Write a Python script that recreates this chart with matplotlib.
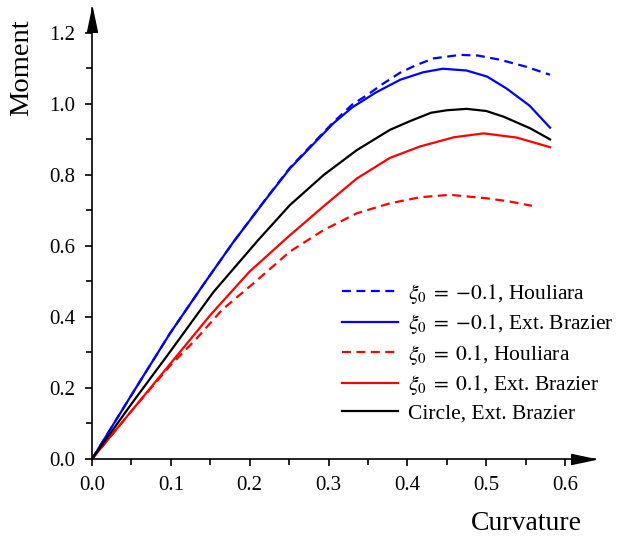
import matplotlib
matplotlib.use("Agg")
import matplotlib.pyplot as plt
from matplotlib.ticker import MultipleLocator, FormatStrFormatter
from matplotlib.path import Path

plt.rcParams['font.family'] = ['Liberation Serif', 'DejaVu Serif']
plt.rcParams['mathtext.fontset'] = 'stix'

# ---- data ----
blue_solid_x = [0, 0.05, 0.099, 0.141, 0.179, 0.22, 0.251, 0.28, 0.306, 0.33, 0.36, 0.391, 0.42, 0.445, 0.475, 0.501, 0.526, 0.555, 0.581]
blue_solid_y = [0, 0.18, 0.354, 0.490, 0.610, 0.730, 0.818, 0.885, 0.945, 0.990, 1.032, 1.068, 1.089, 1.099, 1.094, 1.077, 1.043, 0.995, 0.933]

blue_dash_x = [0, 0.05, 0.099, 0.141, 0.179, 0.22, 0.251, 0.28, 0.306, 0.33, 0.349, 0.37, 0.391, 0.41, 0.433, 0.467, 0.49, 0.518, 0.55, 0.581]
blue_dash_y = [0, 0.18, 0.354, 0.490, 0.610, 0.731, 0.820, 0.888, 0.948, 0.998, 1.025, 1.058, 1.088, 1.108, 1.128, 1.138, 1.136, 1.124, 1.105, 1.082]

black_x = [0, 0.05, 0.099, 0.154, 0.211, 0.251, 0.294, 0.336, 0.378, 0.404, 0.43, 0.45, 0.475, 0.50, 0.522, 0.556, 0.581]
black_y = [0, 0.155, 0.302, 0.470, 0.617, 0.715, 0.800, 0.870, 0.927, 0.952, 0.975, 0.982, 0.986, 0.980, 0.964, 0.931, 0.900]

red_solid_x = [0, 0.05, 0.1, 0.15, 0.2, 0.25, 0.294, 0.336, 0.378, 0.416, 0.459, 0.497, 0.539, 0.581]
red_solid_y = [0, 0.135, 0.27, 0.405, 0.528, 0.628, 0.712, 0.790, 0.848, 0.880, 0.906, 0.917, 0.905, 0.878]

red_dash_x = [0, 0.05, 0.1, 0.131, 0.165, 0.205, 0.251, 0.294, 0.336, 0.378, 0.416, 0.454, 0.501, 0.53, 0.558]
red_dash_y = [0, 0.135, 0.265, 0.335, 0.42, 0.495, 0.584, 0.645, 0.692, 0.720, 0.737, 0.744, 0.734, 0.725, 0.713]

labels = [r'$\xi_0\;=\;{-}0.1$, Houliara',
          r'$\xi_0\;=\;{-}0.1$, Ext. Brazier',
          r'$\xi_0\;=\;0.1$, Houliara',
          r'$\xi_0\;=\;0.1$, Ext. Brazier',
          'Circle, Ext. Brazier']

fig = plt.figure(figsize=(6.21, 5.37), dpi=100)
ax = fig.add_axes([92/621, 1-459/537, (595-92)/621, (459-8)/537])

lw = 1.6
ax.plot(blue_dash_x, blue_dash_y, color='#0000ff', lw=lw, dashes=(4, 2.5), label=labels[0])
ax.plot(blue_solid_x, blue_solid_y, color='#0000ff', lw=lw, label=labels[1])
ax.plot(red_dash_x, red_dash_y, color='#ff0000', lw=lw, dashes=(4, 2.5), label=labels[2])
ax.plot(red_solid_x, red_solid_y, color='#ff0000', lw=lw, label=labels[3])
ax.plot(black_x, black_y, color='black', lw=lw, label=labels[4])

ax.set_xlim(0, 0.638)
ax.set_ylim(0, 1.27)

for s in ['top', 'right']:
    ax.spines[s].set_visible(False)
for s in ['left', 'bottom']:
    ax.spines[s].set_linewidth(1.2)

ax.xaxis.set_minor_locator(MultipleLocator(0.05))
ax.yaxis.set_minor_locator(MultipleLocator(0.1))
ax.set_xticks([0, 0.1, 0.2, 0.3, 0.4, 0.5, 0.6])
ax.set_yticks([0, 0.2, 0.4, 0.6, 0.8, 1.0, 1.2])
ax.xaxis.set_major_formatter(FormatStrFormatter('%.1f'))
ax.yaxis.set_major_formatter(FormatStrFormatter('%.1f'))
ax.tick_params(which='major', direction='out', length=5, width=1.2, labelsize=15, pad=7)
ax.tick_params(which='minor', direction='out', length=4, width=1.2)

# arrow heads on the axes
arrow_r = Path([(-1, -0.42), (1, 0), (-1, 0.42), (-1, -0.42)],
               [Path.MOVETO, Path.LINETO, Path.LINETO, Path.CLOSEPOLY])
arrow_u = Path([(-0.42, -1), (0, 1), (0.42, -1), (-0.42, -1)],
               [Path.MOVETO, Path.LINETO, Path.LINETO, Path.CLOSEPOLY])
ax.plot([0.976], [0], marker=arrow_r, markersize=17, color='black',
        transform=ax.transAxes, clip_on=False)
ax.plot([0], [0.974], marker=arrow_u, markersize=17, color='black',
        transform=ax.transAxes, clip_on=False)

fig.text(22/621, 1-68/537, 'Moment', rotation=90, fontsize=20.5, ha='center', va='center')
fig.text(526/621, 1-523/537, 'Curvature', fontsize=20, ha='center', va='center')

ax.legend(loc='upper left', bbox_to_anchor=(0.497, 0.393), frameon=False,
          fontsize=15.5, handlelength=2.6, handletextpad=0.46, labelspacing=0.3,
          borderpad=0, borderaxespad=0)

fig.savefig('out.png', dpi=100)
